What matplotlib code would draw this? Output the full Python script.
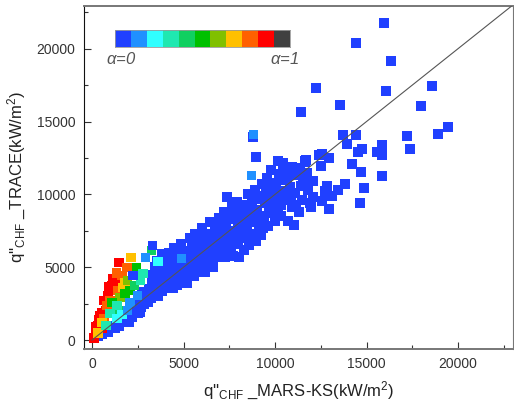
import numpy as np
import matplotlib
matplotlib.use("Agg")
import matplotlib.pyplot as plt
from matplotlib.colors import ListedColormap

plt.rcParams['font.family'] = ['Liberation Sans', 'DejaVu Sans']
plt.rcParams['mathtext.fontset'] = 'custom'
plt.rcParams['mathtext.rm'] = 'Liberation Sans'
plt.rcParams['mathtext.it'] = 'Liberation Sans:italic'

# alpha level colours (0 -> 1)
level_colors = ['#2040ff', '#2090ff', '#30ffff', '#1fe8b0', '#10d060', '#00c000',
                '#80c000', '#ffc000', '#ff6000', '#ff0000', '#404040']

# main band of alpha=0 points (MARS-KS, TRACE)
band_x = [300, 550, 750, 900, 1100, 1250, 1400, 1600, 1750, 1900, 2050, 2200, 2350, 2300, 2500,
          2650, 2700, 2850, 2900, 3050, 3100, 3200, 3300, 3350, 3400, 3500, 3550, 3600, 3700, 3750,
          3800, 3850, 3900, 4000, 4050, 4100, 4200, 4250, 4300, 4400, 4450, 4500, 4550, 4650, 4700,
          4750, 4850, 4900, 5000, 5050, 5150, 5200, 5300, 5350, 5400, 5450, 5550, 5600, 5700, 5750,
          5850, 5900, 6000, 6050, 6150, 6200, 6300, 6350, 6450, 6500, 6600, 6650, 6700, 6800, 6850,
          6950, 7000, 7100, 7200, 7250, 7300, 7400, 7500, 7550, 7650, 7700, 7800, 7850, 7900, 8000,
          8050, 8150, 8200, 8300, 8350, 8450, 8500, 8600, 8650, 8750, 8800, 8900, 8950, 9000, 9100,
          9200, 9250, 9300, 9400, 9450, 9550, 9600, 9700, 9750, 9800, 9900, 10000, 10050, 10150, 10200,
          10300, 10400, 10450, 10550, 10650, 10700, 10800, 10900, 10950, 11050, 11100, 11200, 11300,
          11400, 11500, 11650, 11700, 11800, 11900, 12050, 12100, 12400,
          1500, 2000, 2600, 2750, 3250, 3450, 3650, 3950, 4150, 4350, 4600, 4800, 4950, 5100,
          5250, 5350, 5500, 5650, 5800, 5950, 6100, 6250, 6400, 6550, 6750, 6900, 7050, 7150,
          7350, 7450, 7600, 7700, 7950, 8100, 8250, 8400, 8550, 8700, 8850, 9050, 9150, 9350,
          9500, 9650, 9850, 9950, 10100, 10250, 10350, 10600, 10750, 10850, 11150, 11350, 11550]
band_y = [250, 420, 700, 560, 950, 800, 1150, 1250, 1500, 1350, 1700, 1550, 2000, 2450, 1850,
          2250, 2700, 2500, 3100, 2600, 3500, 2900, 3900, 4400, 3300, 4900, 5400, 3000, 3700, 4300,
          5900, 3350, 4800, 5300, 4100, 3600, 6000, 4600, 5600, 3550, 5100, 6300, 4200, 3800, 5700,
          4800, 6600, 4100, 5300, 6100, 4500, 3950, 5800, 7000, 5000, 6500, 4400, 7300, 5500, 6200,
          4700, 6900, 7700, 5200, 6000, 4650, 7300, 6500, 8100, 5500, 5000, 7000, 7800, 6200, 5700,
          8400, 7200, 6600, 8800, 5700, 7700, 6300, 8300, 7000, 9100, 5800, 7500, 6600, 9500, 8100,
          5700, 8800, 7000, 6200, 9300, 7700, 10000, 6500, 8500, 9600, 7300, 10300, 6800, 8900, 7900,
          9900, 7200, 10700, 8500, 9400, 11100, 7800, 10300, 8900, 11700, 9700, 8200, 10800, 9200, 11400,
          8500, 10100, 12100, 9600, 11000, 8200, 10500, 11800, 9100, 7900, 10100, 11300, 8800,
          10600, 9600, 12200, 11400, 10300, 9400, 10900, 9800, 12700,
          1000, 1250, 1900, 3300, 4500, 5000, 4600, 3900, 4900, 4100, 5300, 6000, 4600, 5700,
          5200, 4400, 6000, 6600, 5100, 6300, 7000, 5600, 6900, 6200, 7400, 6700, 7900, 6100,
          8400, 7200, 6400, 8700, 6900, 7600, 9200, 8200, 7100, 9000, 8100, 9700, 8400, 7700,
          10100, 9000, 10600, 8700, 9900, 11000, 9300, 10200, 11400, 9700, 9300, 11800, 10900]

# scattered alpha=0 points above ~11000
outer_x = [15970, 14440, 16350, 12260, 16080, 18585, 13570, 11445, 17985, 19460, 18910, 17220,
           17385, 13735, 14440, 13950, 14770, 14550, 15860, 15590, 15860, 12590, 11665, 12970,
           14225, 12535, 14715, 15860, 14880, 13845, 13460, 12860, 12750, 13135, 14660, 11990,
           12590, 12970, 8940, 10140, 7360, 10900, 11720, 8775, 10410, 11660]
outer_y = [21760, 20390, 19160, 17320, 17120, 17460, 16160, 15620, 16095, 14595, 14120, 13980,
           13095, 14050, 14050, 13435, 13095, 12890, 13370, 12890, 12685, 12750, 12345, 12480,
           12070, 11935, 11525, 11250, 10435, 10710, 10300, 10570, 10230, 9890, 9410, 9140,
           9550, 9000, 12550, 12275, 9820, 11870, 11460, 13910, 12140, 12275]

# points with alpha > 0 (level index into level_colors)
col_x = [1470, 1090, 870, 980, 650, 760, 440, 330, 220, 545, 110, 1250, 600, 1150, 900, 500, 350, 200,
         1910, 1635, 820, 1090, 980, 650, 1420, 1350,
         2125, 1690, 330, 1800, 545,
         1960, 1525, 1310,
         2450, 1800, 1090, 2070,
         3270, 2340, 1420,
         2780, 2670, 1360, 980, 760,
         1360, 1635, 3600,
         2940, 2070, 1960, 8720, 8830, 4900, 2500, 2235, 3325]
col_y = [5320, 3750, 3070, 3410, 2730, 2050, 1700, 1020, 480, 820, 140, 3950, 1360, 4200, 3700, 1900, 1400, 900,
         4980, 4430, 2390, 2180, 2730, 1500, 3410, 4600,
         5660, 3615, 480, 3950, 1230,
         4090, 2930, 2590,
         4980, 3200, 2590, 3410,
         6140, 3750, 2050,
         4570, 4090, 2390, 1840, 1020,
         1500, 1770, 5390,
         5660, 2590, 2050, 11320, 14120, 5590, 3070, 4430, 6480]
col_level = [9, 9, 9, 9, 9, 9, 9, 9, 9, 9, 9, 9, 9, 9, 9, 9, 9, 9,
             8, 8, 8, 8, 8, 8, 8, 8,
             7, 7, 7, 7, 7,
             6, 6, 6,
             5, 5, 5, 5,
             4, 4, 4,
             3, 3, 3, 3, 3,
             2, 2, 2,
             1, 1, 1, 1, 1, 1, 1, 0, 0]

fig = plt.figure(figsize=(5.14, 4.05), dpi=100)
ax = fig.add_axes([0.163, 0.138, 0.835, 0.848])

ms = 44
ax.scatter(band_x, band_y, s=ms, marker='s', c=level_colors[0], linewidths=0, zorder=2)
ax.scatter(outer_x, outer_y, s=ms, marker='s', c=level_colors[0], linewidths=0, zorder=2)
ax.scatter(col_x, col_y, s=ms, marker='s', c=[level_colors[k] for k in col_level],
           linewidths=0, zorder=3)

ax.plot([0, 23500], [0, 23500], color='#555555', lw=0.8, zorder=4)

ax.set_xlim(-450, 23000)
ax.set_ylim(-620, 22950)
ax.set_xticks([0, 5000, 10000, 15000, 20000])
ax.set_yticks([0, 5000, 10000, 15000, 20000])
ax.set_xticks(np.arange(2500, 23000, 5000), minor=True)
ax.set_yticks(np.arange(2500, 23000, 5000), minor=True)
ax.tick_params(which='both', direction='in', top=False, right=False, colors='#333333',
               labelsize=10, width=0.8)
ax.tick_params(which='major', length=5, pad=6)
ax.tick_params(which='minor', length=3)
for side in ['top', 'bottom']:
    ax.spines[side].set_color('#777777')
    ax.spines[side].set_linewidth(1.4)
ax.spines['left'].set_color('#111111')
ax.spines['right'].set_color('#777777')

ax.set_xlabel(r"q''$_{\mathrm{CHF}}$ _MARS-KS(kW/m$^{2}$)", fontsize=12, color='#222222', labelpad=6)
ax.set_ylabel(r"q''$_{\mathrm{CHF}}$ _TRACE(kW/m$^{2}$)", fontsize=12, color='#222222', labelpad=6)

# alpha colour strip
cax = fig.add_axes([0.224, 0.884, 0.340, 0.042])
cax.imshow(np.arange(len(level_colors))[None, :], cmap=ListedColormap(level_colors),
           aspect='auto', interpolation='nearest')
cax.set_xticks([])
cax.set_yticks([])
for s in cax.spines.values():
    s.set_color('#999999')
    s.set_linewidth(0.6)
fig.text(0.206, 0.855, r'$\alpha$=0', fontsize=12, style='italic', color='#555555', va='center')
fig.text(0.525, 0.855, r'$\alpha$=1', fontsize=12, style='italic', color='#555555', va='center')

fig.savefig('out.png', dpi=100)
